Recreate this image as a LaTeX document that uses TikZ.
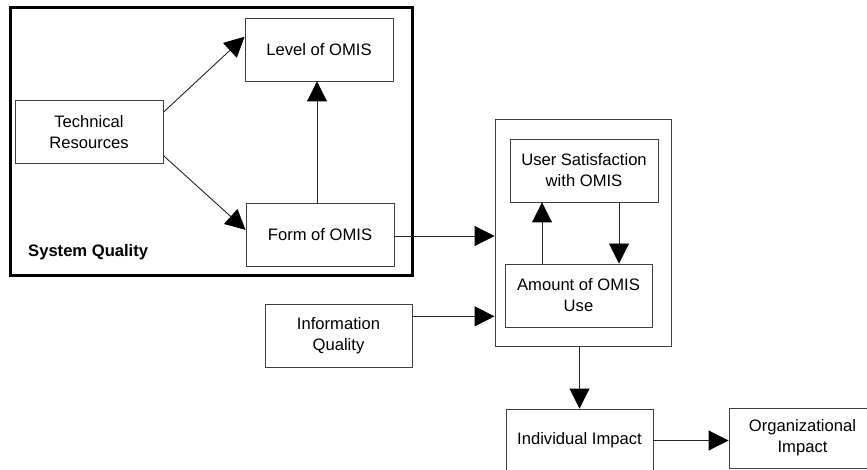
\documentclass[tikz,border=0pt]{standalone}
\usepackage{fontspec}
\setmainfont{Liberation Sans}
\usetikzlibrary{arrows.meta,calc}

\tikzset{
  box/.style={draw=black!75, line width=0.9pt, minimum width=148pt, minimum height=63pt,
    inner sep=0pt, align=center, font=\fontsize{16.6pt}{21pt}\selectfont},
  conn/.style={draw=black!85, line width=0.9pt,
    -{Triangle[length=20pt,width=20pt,color=black,fill=black]}},
}

\begin{document}
\begin{tikzpicture}[x=1pt, y=-1pt]
  \useasboundingbox (0,0) rectangle (867,470);
  \clip (0,0) rectangle (867,470);

  % System Quality group
  \node[draw=black, line width=3pt, minimum width=402pt, minimum height=268pt, inner sep=0pt]
    (sq) at (211,142) {};
  \node[anchor=west, inner sep=0pt, font=\bfseries\fontsize{16.6pt}{21pt}\selectfont]
    (sqlabel) at (28,252) {System Quality};
  \node[box] (tr)   at (89,132)   {Technical\\Resources};
  \node[box] (lvl)  at (319,49.5) {Level of OMIS};
  \node[box] (form) at (320,235)  {Form of OMIS};

  % usage group
  \node[draw=black!75, line width=0.9pt, minimum width=176pt, minimum height=227pt, inner sep=0pt]
    (mid) at (583,232.5) {};
  \node[box] (us)  at (584,170.5)   {User Satisfaction\\with OMIS};
  \node[box, minimum width=147pt] (amt) at (578.5,295.5) {Amount of OMIS\\Use};

  \node[box, minimum width=147pt] (iq)  at (338.5,335.5) {Information\\Quality};
  \node[box, minimum width=147pt] (ind) at (579.5,440.5) {Individual Impact};
  \node[box, minimum width=147pt, minimum height=60pt] (org) at (802.5,438) {Organizational\\Impact};

  % connectors
  \draw[conn] ($(tr.north east)!0.19!(tr.south east)$) -- ($(lvl.north west)!0.3!(lvl.south west)$);
  \draw[conn] ($(tr.north east)!0.87!(tr.south east)$) -- ($(form.north west)!0.42!(form.south west)$);
  \draw[conn] ([xshift=-3pt]form.north) -- ([xshift=-2pt]lvl.south);
  \draw[conn] ([yshift=-1pt]form.east) -- ([yshift=-1pt]form.east -| mid.west);
  \coordinate (iqout) at ($(iq.north east)!0.2!(iq.south east)$);
  \draw[conn] (iqout) -- (iqout -| mid.west);
  \coordinate (upx) at ([xshift=-36.5pt]amt.north);
  \draw[conn] (upx) -- (upx |- us.south);
  \coordinate (dnx) at ([xshift=35pt]us.south);
  \draw[conn] (dnx) -- (dnx |- amt.north);
  \draw[conn] (ind.north |- mid.south) -- (ind.north);
  \draw[conn] (ind.east) -- (ind.east -| org.west);
\end{tikzpicture}
\end{document}
